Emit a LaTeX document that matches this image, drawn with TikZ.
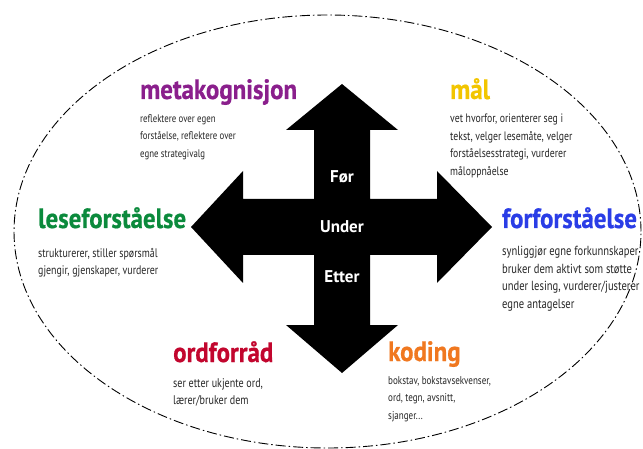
\documentclass[tikz,border=0pt]{standalone}
\usepackage{fontspec}
\setmainfont{PT Sans}
\newfontfamily\narrowfont{PT Sans}[FakeStretch=0.8]
\newfontfamily\headfont{PT Sans}[FakeStretch=0.89,FakeBold=0.6]
\usetikzlibrary{positioning,shapes.geometric}
\definecolor{metacol}{HTML}{8A1F8C}
\definecolor{malcol}{HTML}{F2C500}
\definecolor{lesecol}{HTML}{0B8A3C}
\definecolor{forcol}{HTML}{2A3DE6}
\definecolor{ordcol}{HTML}{C2062E}
\definecolor{kodcol}{HTML}{F07820}
\definecolor{bodygray}{HTML}{262626}
\tikzset{
    HD/.style ={anchor=base west, inner sep=0pt, font=\headfont\bfseries\fontsize{28}{30}\selectfont},
    BD/.style ={anchor=north west, inner sep=0pt, align=left, text=bodygray, font=\narrowfont\fontsize{#1}{17.5}\selectfont},
    BD/.default=11,
    CT/.style ={text=white, inner sep=0pt, font=\bfseries\fontsize{17}{20}\selectfont}}
\begin{document}
\begin{tikzpicture}[x=1pt,y=-1pt]
    \useasboundingbox (0,0) rectangle (643,449);
    % dash-dot rim
    \node(rim) [ellipse,draw,line width=0.9pt,dash pattern=on 10pt off 3pt on 1.5pt off 3pt,
        minimum width=627pt,minimum height=433pt] at (327.5,231.5) {};
    % four-way arrow
    \fill (342,84) -- (398,130) -- (370,130) -- (370,199) -- (437,199) -- (437,171)
        -- (492,227) -- (437,283) -- (437,255) -- (370,255) -- (370,325) -- (398,325)
        -- (342,373) -- (286,325) -- (314,325) -- (314,255) -- (243,255) -- (243,283)
        -- (191,227) -- (243,171) -- (243,199) -- (314,199) -- (314,130) -- (286,130) -- cycle;
    \node(for)   [CT] at (342,177) {Før};
    \node(under) [CT] at (342,227) {Under};
    \node(etter) [CT] at (342,277) {Etter};
    % headings
    \node(meta) [HD,text=metacol] at (140,99)  {metakognisjon};
    \node(mal)  [HD,text=malcol]  at (450,99)  {mål};
    \node(lese) [HD,text=lesecol] at (38,228)  {leseforståelse};
    \node(forf) [HD,text=forcol]  at (502,228) {forforståelse};
    \node(ordf) [HD,text=ordcol]  at (173,362) {ordforråd};
    \node(kod)  [HD,text=kodcol]  at (388,361) {koding};
    % descriptions
    \node(metab) [BD=11]   at ([yshift=-15pt]meta.base west) {reflektere over egen\\forståelse, reflektere over\\egne strategivalg};
    \node(malb)  [BD=12.2] at ([yshift=-15pt]mal.base west)  {vet hvorfor, orienterer seg i\\tekst, velger lesemåte, velger\\forståelsesstrategi, vurderer\\måloppnåelse};
    \node(leseb) [BD=12.4] at ([yshift=-20pt]lese.base west) {strukturerer, stiller spørsmål\\gjengir, gjenskaper, vurderer};
    \node(forfb) [BD=13.2] at ([yshift=-18pt]forf.base west) {synliggjør egne forkunnskaper\\bruker dem aktivt som støtte\\under lesing, vurderer/justerer\\egne antagelser};
    \node(ordfb) [BD=12.6] at ([yshift=-16pt]ordf.base west) {ser etter ukjente ord,\\lærer/bruker dem};
    \node(kodb)  [BD=11.3] at ([yshift=-15pt]kod.base west)  {bokstav, bokstavsekvenser,\\ord, tegn, avsnitt,\\sjanger...};
\end{tikzpicture}
\end{document}
